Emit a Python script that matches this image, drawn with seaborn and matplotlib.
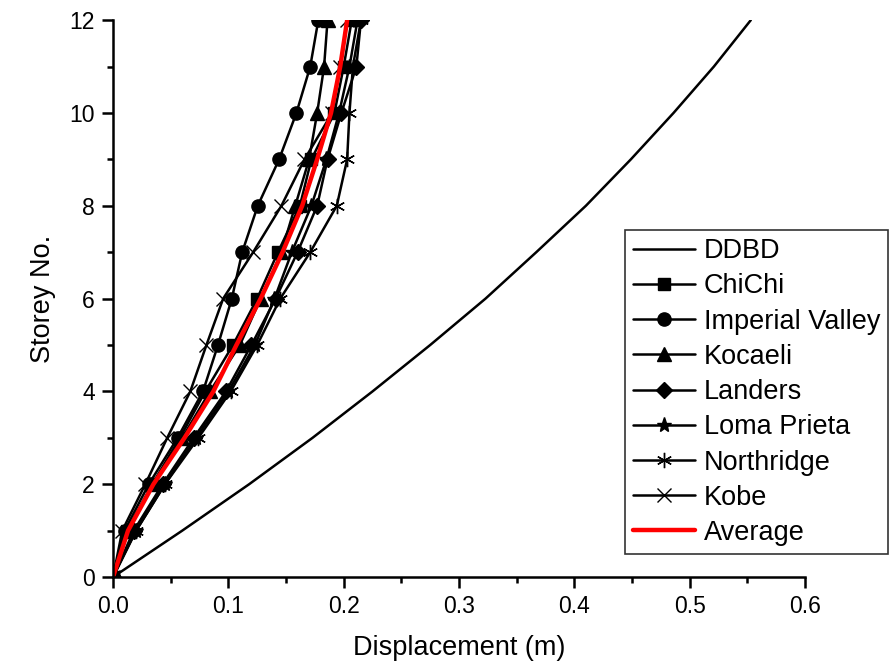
import numpy as np
import pandas as pd
import matplotlib
matplotlib.use("Agg")
import matplotlib.pyplot as plt
import seaborn as sns
from matplotlib.ticker import MultipleLocator

# storey levels
storey = [0, 1, 2, 3, 4, 5, 6, 7, 8, 9, 10, 11, 12]

# displacement profiles (m)
ddbd = [0.0, 0.060, 0.118, 0.173, 0.225, 0.275, 0.323, 0.367, 0.410, 0.449, 0.486, 0.521, 0.553]
chichi = [0.0, 0.012, 0.034, 0.058, 0.080, 0.104, 0.125, 0.143, 0.162, 0.172, 0.192, 0.200, 0.207]
imperial = [0.0, 0.010, 0.031, 0.056, 0.078, 0.091, 0.103, 0.112, 0.1255, 0.144, 0.159, 0.171, 0.178]
kocaeli = [0.0, 0.012, 0.035, 0.060, 0.084, 0.110, 0.128, 0.146, 0.158, 0.170, 0.177, 0.183, 0.186]
landers = [0.0, 0.018, 0.043, 0.070, 0.098, 0.120, 0.141, 0.160, 0.177, 0.186, 0.198, 0.211, 0.215]
loma = [0.0, 0.020, 0.045, 0.072, 0.100, 0.123, 0.140, 0.155, 0.172, 0.185, 0.196, 0.205, 0.212]
northridge = [0.0, 0.020, 0.045, 0.074, 0.102, 0.125, 0.145, 0.171, 0.194, 0.203, 0.205, 0.208, 0.215]
kobe = [0.0, 0.008, 0.028, 0.047, 0.067, 0.081, 0.0955, 0.1215, 0.146, 0.166, 0.190, 0.197, 0.203]
average = [0.0, 0.013, 0.035, 0.062, 0.087, 0.107, 0.128, 0.147, 0.164, 0.177, 0.189, 0.197, 0.203]

series = [
    ("DDBD", ddbd, None, 0),
    ("ChiChi", chichi, "s", 8.5),
    ("Imperial Valley", imperial, "o", 9.5),
    ("Kocaeli", kocaeli, "^", 9.5),
    ("Landers", landers, "D", 8),
    ("Loma Prieta", loma, "*", 11),
    ("Northridge", northridge, (6, 2, 0), 11),
    ("Kobe", kobe, "x", 10),
]

sns.set_style("ticks")
plt.rcParams["font.family"] = ["Liberation Sans", "DejaVu Sans"]
plt.rcParams["text.color"] = "black"
plt.rcParams["axes.labelcolor"] = "black"
plt.rcParams["xtick.color"] = "black"
plt.rcParams["ytick.color"] = "black"

fig = plt.figure(figsize=(8.9, 6.71), dpi=100)
ax = fig.add_axes([0.127, 0.14, 0.7775, 0.830])

for name, vals, mk, size in series:
    df = pd.DataFrame({"disp": vals, "storey": storey})
    kw = dict(color="black", linewidth=1.8)
    if mk is not None:
        kw.update(marker=mk, markersize=size, markeredgecolor="black",
                  markerfacecolor="black", markeredgewidth=1.0)
    sns.lineplot(data=df, x="disp", y="storey", sort=False, estimator=None,
                 ax=ax, label=name, **kw)

df_avg = pd.DataFrame({"disp": average, "storey": storey})
sns.lineplot(data=df_avg, x="disp", y="storey", sort=False, estimator=None,
             ax=ax, color="red", linewidth=3.2, label="Average")

ax.set_xlim(0, 0.6)
ax.set_ylim(0, 12)
ax.xaxis.set_major_locator(MultipleLocator(0.1))
ax.xaxis.set_minor_locator(MultipleLocator(0.05))
ax.yaxis.set_major_locator(MultipleLocator(2))
ax.yaxis.set_minor_locator(MultipleLocator(1))
ax.set_xticklabels([f"{v:.1f}" for v in ax.get_xticks()])
ax.tick_params(which="major", direction="out", length=8, width=1.8, labelsize=16.5,
               color="black", labelcolor="black", pad=5)
ax.tick_params(which="minor", direction="out", length=4.5, width=1.8, color="black")

for side in ("top", "right"):
    ax.spines[side].set_visible(False)
for side in ("left", "bottom"):
    ax.spines[side].set_linewidth(1.8)
    ax.spines[side].set_color("black")

ax.set_xlabel("Displacement (m)", fontsize=19.5, labelpad=12, color="black")
ax.set_ylabel("Storey No.", fontsize=19.5, labelpad=10, color="black")

leg = ax.legend(loc="upper right", bbox_to_anchor=(0.998, 0.657),
                bbox_transform=fig.transFigure, borderaxespad=0,
                fontsize=19.5, frameon=True, fancybox=False, edgecolor="black",
                handlelength=2.3, handletextpad=0.3, labelspacing=0.34,
                borderpad=0.3)
leg.get_frame().set_linewidth(1.2)
for t in leg.get_texts():
    t.set_color("black")

fig.savefig("out.png", dpi=100)
